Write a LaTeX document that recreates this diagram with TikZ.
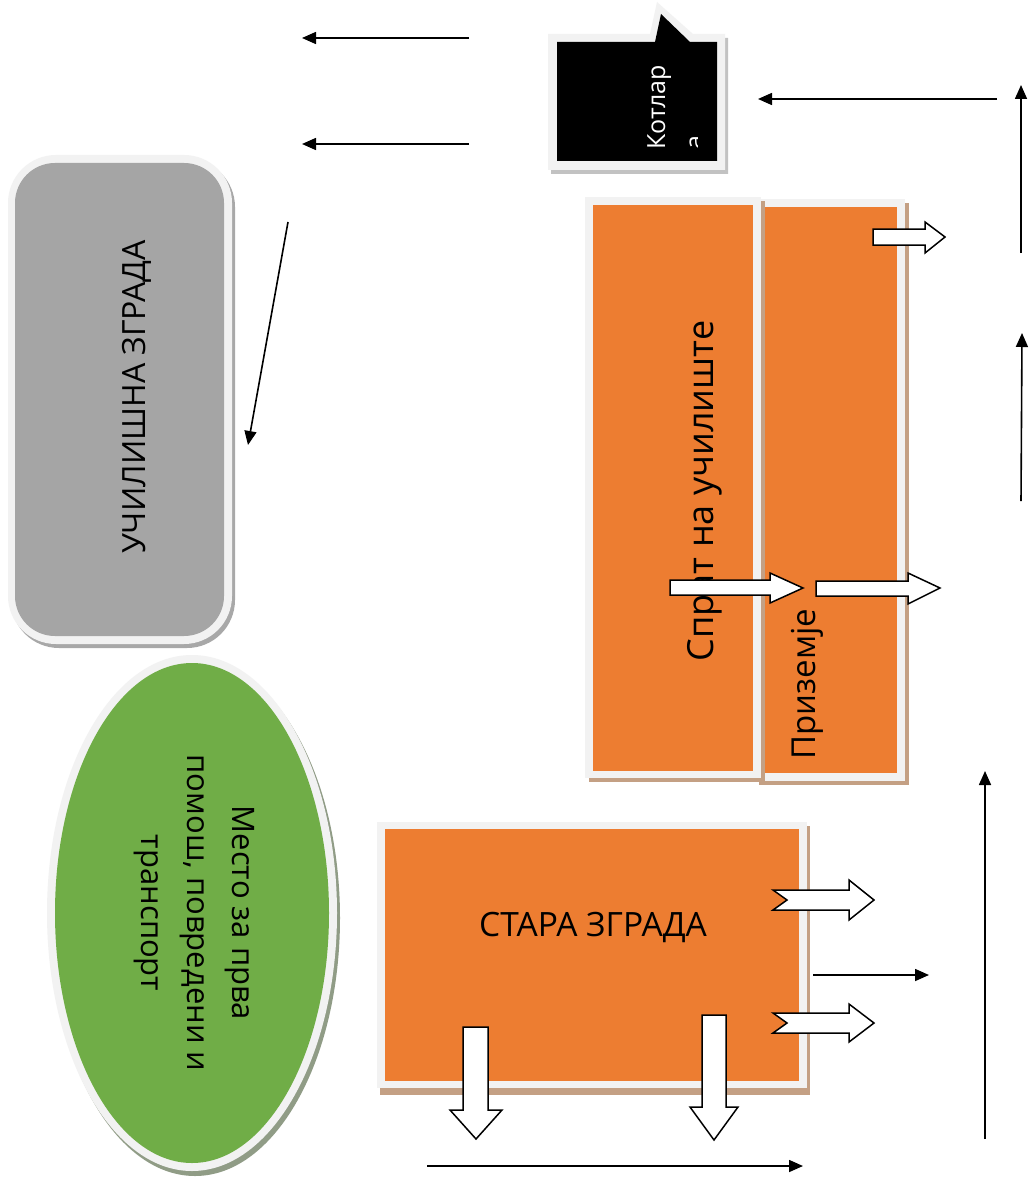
\documentclass[tikz,border=0pt]{standalone}
\usepackage{fontspec}
\setmainfont{Open Sans}
\usetikzlibrary{arrows.meta}
\definecolor{orng}{HTML}{ED7D31}
\definecolor{grayfill}{HTML}{A5A5A5}
\definecolor{grn}{HTML}{70AD47}
\definecolor{brd}{HTML}{F2F2F2}
\definecolor{oshadow}{HTML}{C4A084}
\definecolor{gshadow}{HTML}{A8A8A8}
\definecolor{grshadow}{HTML}{909C86}
\begin{document}
\begin{tikzpicture}[x=1pt,y=-1pt,
  thinarrow/.style={line width=1.6pt, -{Triangle[length=14pt,width=12pt]}},
  blockarrow/.style={draw=black, fill=white, line width=1.5pt, line join=miter},
  bigtext/.style={font=\fontsize{32}{38}\selectfont, inner sep=0pt},
  oldtext/.style={font=\fontsize{33.5}{40}\selectfont, inner sep=0pt},
  spratttext/.style={font=\fontsize{36}{42}\selectfont, inner sep=0pt},
  priztext/.style={font=\fontsize{33}{38}\selectfont, inner sep=0pt},
  midtext/.style={font=\fontsize{31}{38}\selectfont, inner sep=0pt},
  smalltext/.style={font=\fontsize{25}{30}\selectfont, inner sep=0pt, text=white},
]
\useasboundingbox[fill=white] (0,0) rectangle (1029,1193);

% ---------- Kotlar callout ----------
\fill[gshadow!70] (551,38) -- (653,38) -- (660,6) -- (696,38) -- (728,38) -- (728,174) -- (551,174) -- cycle;
\fill[brd] (548,34) -- (650,34) -- (657,2) -- (693,34) -- (725,34) -- (725,170) -- (548,170) -- cycle;
\fill[black] (557,42) -- (655,42) -- (661,14) -- (690,42) -- (717,42) -- (717,161) -- (557,161) -- cycle;
\node[smalltext, rotate=90, anchor=base west] (kotlar) at (665,150) {Котлар};
\begin{scope}
  \clip (600,100) rectangle (697,160);
  \node[smalltext, rotate=90, anchor=base west] (kotlar2) at (703,150) {а};
\end{scope}

% ---------- School building (gray) ----------
\fill[gshadow, rounded corners=48pt] (11,159) rectangle (235,648);
\fill[brd, rounded corners=48pt] (8,155) rectangle (232,644);
\fill[grayfill, rounded corners=40pt] (15,163) rectangle (224,636);
\node[bigtext, rotate=90, anchor=base] (school) at (145,397) {УЧИЛИШНА ЗГРАДА};

% ---------- Prizemje box ----------
\fill[oshadow] (759,203) rectangle (909,785);
\fill[brd] (755,199) rectangle (905,781);
\fill[orng] (763,207) rectangle (897,773);
\node[priztext, rotate=90, anchor=base] (prizemje) at (815,684) {Приземје};

% ---------- Sprat box ----------
\fill[oshadow] (589,201) rectangle (765,782);
\fill[brd] (585,197) rectangle (761,778);
\fill[orng] (593,205) rectangle (753,771);
\node[spratttext, rotate=90, anchor=base] (sprat) at (713,491) {Спрат на училиште};

% ---------- Old building ----------
\fill[oshadow] (380,826) rectangle (810,1095);
\fill[brd] (377,822) rectangle (807,1088);
\fill[orng] (385,829) rectangle (799,1081);
\node[oldtext, anchor=base] (old) at (593,936) {СТАРА ЗГРАДА};

% ---------- First aid ellipse ----------
\fill[grshadow] (195,918) ellipse [x radius=145, y radius=258];
\fill[brd] (192,913) ellipse [x radius=145, y radius=258];
\fill[grn] (192,913) ellipse [x radius=137, y radius=250];
\node[midtext, rotate=-90, anchor=base] (aid1) at (232,913) {Место за прва};
\node[midtext, rotate=-90, anchor=base] (aid2) at (187,913) {помош, повредени и};
\node[midtext, rotate=-90, anchor=base] (aid3) at (141,913) {транспорт};

% ---------- Block arrows ----------
% small right arrow top of prizemje
\draw[blockarrow] (873,229) -- (925,229) -- (925,222) -- (945,237) -- (925,253) -- (925,245) -- (873,245) -- cycle;
% middle arrows
\draw[blockarrow] (670,580) -- (770,580) -- (770,573) -- (803,588) -- (770,603) -- (770,595) -- (670,595) -- cycle;
\draw[blockarrow] (816,581) -- (908,581) -- (908,573) -- (940,588) -- (908,604) -- (908,596) -- (816,596) -- cycle;
% notched arrows right of old building
\draw[blockarrow] (773,890) -- (849,890) -- (849,880) -- (874,900) -- (849,920) -- (849,910) -- (773,910) -- (787,900) -- cycle;
\draw[blockarrow] (773,1013) -- (849,1013) -- (849,1004) -- (874,1023) -- (849,1042) -- (849,1033) -- (773,1033) -- (787,1023) -- cycle;
% down arrows
\draw[blockarrow] (463,1027) -- (488,1027) -- (488,1110) -- (502,1110) -- (476,1139) -- (450,1110) -- (463,1110) -- cycle;
\draw[blockarrow] (702,1015) -- (726,1015) -- (726,1107) -- (738,1107) -- (714,1140) -- (690,1107) -- (702,1107) -- cycle;

% ---------- Thin arrows ----------
\coordinate (a1s) at (469,38);   \coordinate (a1e) at (302,38);
\coordinate (a2s) at (469,144);  \coordinate (a2e) at (302,144);
\coordinate (a3s) at (288,222);  \coordinate (a3e) at (248,445);
\coordinate (a4s) at (997,99);   \coordinate (a4e) at (758,99);
\coordinate (a5s) at (1021,253); \coordinate (a5e) at (1021,85);
\coordinate (a6s) at (1021,501); \coordinate (a6e) at (1022,333);
\coordinate (a7s) at (985,1139); \coordinate (a7e) at (985,771);
\coordinate (a8s) at (813,975);  \coordinate (a8e) at (929,975);
\coordinate (a9s) at (427,1166); \coordinate (a9e) at (803,1166);
\foreach \i in {1,...,9} { \draw[thinarrow] (a\i s) -- (a\i e); }
\end{tikzpicture}
\end{document}
